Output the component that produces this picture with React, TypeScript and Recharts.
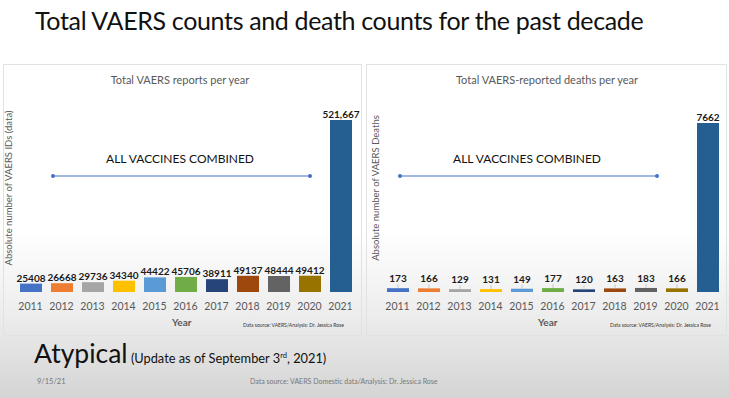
import { BarChart, Bar, XAxis, YAxis, Cell, LabelList } from "recharts";

const years = ["2011", "2012", "2013", "2014", "2015", "2016", "2017", "2018", "2019", "2020", "2021"];
const reports = [25408, 26668, 29736, 34340, 44422, 45706, 38911, 49137, 48444, 49412, 521667];
const deaths = [173, 166, 129, 131, 149, 177, 120, 163, 183, 166, 7662];
const barColors = ["#4472C4", "#ED7D31", "#A5A5A5", "#FFC000", "#5B9BD5", "#70AD47", "#264478", "#9E480E", "#636363", "#997300", "#255E91"];

const font = "Lato, 'Open Sans', sans-serif";

const fmt = (v: number) => (v >= 100000 ? v.toLocaleString("en-US") : String(v));

const makeLabel = (gap: number) => (props: any) => {
    const { x, y, width, value } = props;
    const cx = x + width / 2;
    const big = value > 5000;
    const ty = big ? y - 6 : y - gap;
    return (
        <g>
            {!big && <line x1={cx} y1={y} x2={cx} y2={ty + 6} stroke="#c8c8c8" strokeWidth={1} />}
            <text x={cx} y={ty} textAnchor="middle" dominantBaseline="central" fontFamily={font} fontWeight={700} fontSize={10} fill="#1a1a1a">
                {fmt(value)}
            </text>
        </g>
    );
};

type PanelProps = {
    left: number;
    width: number;
    values: number[];
    title: string;
    marginTop: number;
    marginLeft: number;
    gap: number;
};

const Panel = ({ left, width, values, title, marginTop, marginLeft, gap }: PanelProps) => {
    const data = years.map((y, i) => ({ year: y, value: values[i] }));
    return (
        <div style={{ position: "absolute", left, top: 60, width, height: 275 }}>
            <div style={{ position: "absolute", left: 0, top: 13, width, textAlign: "center", fontFamily: font, fontSize: 11, color: "#595959" }}>
                {title}
            </div>
            <BarChart width={width} height={270} data={data} margin={{ top: marginTop, right: width - marginLeft - 341, left: marginLeft, bottom: 0 }}>
                <YAxis hide domain={[0, Math.max(...values)]} />
                <XAxis
                    dataKey="year"
                    axisLine={false}
                    tickLine={false}
                    tickSize={0}
                    tickMargin={11}
                    height={38}
                    tick={{ fontFamily: font, fontSize: 10.5, fill: "#595959" }}
                    interval={0}
                />
                <Bar dataKey="value" barSize={22} isAnimationActive={false}>
                    {data.map((_, i) => (
                        <Cell key={i} fill={barColors[i]} />
                    ))}
                    <LabelList dataKey="value" content={makeLabel(gap)} />
                </Bar>
            </BarChart>
        </div>
    );
};

const App = () => {
    return (
        <div
            style={{
                position: "absolute",
                left: 0,
                top: 0,
                width: 729,
                height: 398,
                overflow: "hidden",
                background: "linear-gradient(to bottom, #ffffff 0%, #ffffff 58%, #ececec 80%, #d4d4d4 100%)",
                fontFamily: font,
            }}
        >
            <div style={{ position: "absolute", left: 35, top: 5, fontSize: 25, letterSpacing: -0.35, color: "#111", whiteSpace: "nowrap" }}>
                Total VAERS counts and death counts for the past decade
            </div>

            <div style={{ position: "absolute", left: 3, top: 64, width: 357, height: 270, border: "1px solid #e2e2e2" }} />
            <div style={{ position: "absolute", left: 366, top: 64, width: 359, height: 270, border: "1px solid #e2e2e2" }} />

            <Panel left={0} width={360} values={reports} title="Total VAERS reports per year" marginTop={60} marginLeft={15} gap={15} />
            <Panel left={366} width={362} values={deaths} title="Total VAERS-reported deaths per year" marginTop={63} marginLeft={16} gap={10} />

            <div style={{ position: "absolute", left: 8, top: 188, transform: "translate(-50%, -50%) rotate(-90deg)", fontSize: 9.5, color: "#595959", whiteSpace: "nowrap" }}>
                Absolute number of VAERS IDs (data)
            </div>
            <div style={{ position: "absolute", left: 375, top: 188, transform: "translate(-50%, -50%) rotate(-90deg)", fontSize: 9.5, color: "#595959", whiteSpace: "nowrap" }}>
                Absolute number of VAERS Deaths
            </div>

            <div style={{ position: "absolute", left: 180, top: 158, transform: "translate(-50%, -50%)", fontSize: 12, color: "#111", whiteSpace: "nowrap" }}>
                ALL VACCINES COMBINED
            </div>
            <div style={{ position: "absolute", left: 527, top: 158, transform: "translate(-50%, -50%)", fontSize: 12, color: "#111", whiteSpace: "nowrap" }}>
                ALL VACCINES COMBINED
            </div>
            <svg style={{ position: "absolute", left: 0, top: 0 }} width={729} height={398}>
                <line x1={53} y1={176} x2={310} y2={176} stroke="#4472C4" strokeWidth={1.2} />
                <circle cx={53} cy={176} r={2} fill="#4472C4" />
                <circle cx={310} cy={176} r={2} fill="#4472C4" />
                <line x1={400} y1={176} x2={657} y2={176} stroke="#4472C4" strokeWidth={1.2} />
                <circle cx={400} cy={176} r={2} fill="#4472C4" />
                <circle cx={657} cy={176} r={2} fill="#4472C4" />
            </svg>

            <div style={{ position: "absolute", left: 172, top: 316, fontSize: 10, fontWeight: 700, color: "#595959" }}>Year</div>
            <div style={{ position: "absolute", left: 538, top: 316, fontSize: 10, fontWeight: 700, color: "#595959" }}>Year</div>
            <div style={{ position: "absolute", left: 243, top: 322, fontSize: 5, color: "#333", whiteSpace: "nowrap" }}>
                Data source: VAERS/Analysis: Dr. Jessica Rose
            </div>
            <div style={{ position: "absolute", left: 610, top: 322, fontSize: 5, color: "#333", whiteSpace: "nowrap" }}>
                Data source: VAERS/Analysis: Dr. Jessica Rose
            </div>

            <div style={{ position: "absolute", left: 34, top: 337, whiteSpace: "nowrap", color: "#111" }}>
                <span style={{ fontSize: 26.5 }}>Atypical</span>
                <span style={{ fontSize: 12.8 }}>
                    {" "}(Update as of September 3<sup style={{ fontSize: 7.5 }}>rd</sup>, 2021)
                </span>
            </div>
            <div style={{ position: "absolute", left: 37, top: 377, fontSize: 7.5, color: "#777" }}>9/15/21</div>
            <div style={{ position: "absolute", left: 250, top: 377, fontSize: 7, color: "#777", whiteSpace: "nowrap" }}>
                Data source: VAERS Domestic data/Analysis: Dr. Jessica Rose
            </div>
        </div>
    );
};

export default App;
